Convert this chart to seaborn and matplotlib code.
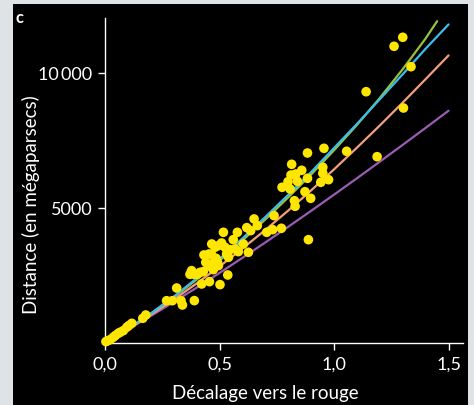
import matplotlib
matplotlib.use("Agg")
import matplotlib.pyplot as plt
from matplotlib.patches import Rectangle
import seaborn as sns
import pandas as pd

# ---- data ----
z_obs = [0.004, 0.012, 0.022, 0.036, 0.045, 0.058, 0.066, 0.080, 0.095, 0.104, 0.117, 0.165, 0.178,
         0.269, 0.294, 0.313, 0.332, 0.338, 0.390,
         0.371, 0.378, 0.389, 0.403, 0.415, 0.429, 0.422, 0.456, 0.440, 0.451,
         0.432, 0.454, 0.466, 0.473, 0.480, 0.485, 0.491, 0.473, 0.495, 0.502,
         0.466, 0.480, 0.495, 0.509, 0.517, 0.524, 0.531, 0.539, 0.546, 0.536,
         0.560, 0.568, 0.578, 0.582, 0.604, 0.619, 0.626, 0.636, 0.651, 0.665,
         0.706, 0.732, 0.738, 0.770,
         0.773, 0.799, 0.808, 0.812, 0.815, 0.833, 0.840, 0.859, 0.873, 0.827,
         0.830, 0.884, 0.884, 0.898, 0.888, 0.942, 0.951, 0.951, 0.956, 0.976,
         1.055, 1.140, 1.188, 1.262, 1.300, 1.303, 1.336]
d_obs = [25, 60, 95, 186, 250, 334, 371, 433, 557, 620, 705, 891, 1013,
         1544, 1544, 2016, 1544, 1385, 1547,
         2524, 2660, 2524, 2524, 2598, 2623, 2165, 2252, 2970, 2846,
         3242, 3279, 3242, 2908, 3031, 3118, 2970, 2697, 2846, 2141,
         3650, 3526, 3588, 3687, 4083, 3526, 3279, 3155, 3440, 2499,
         3811, 3464, 4083, 3366, 3650, 4256, 3341, 4145, 4578, 4331,
         4083, 4182, 4702, 4232,
         5754, 5962, 5690, 6210, 6607, 6247, 5976, 6385, 5590, 5256,
         5048, 6088, 7027, 5345, 3809, 5939, 6496, 6273, 7201, 6036,
         7090, 9302, 6890, 10988, 11322, 8697, 10231]

z_curve = [0.0, 0.1, 0.2, 0.3, 0.4, 0.5, 0.6, 0.7, 0.8, 0.9, 1.0, 1.1, 1.2, 1.3, 1.4, 1.5]
d_purple = [0, 479, 978, 1495, 2028, 2575, 3135, 3706, 4288, 4880, 5481, 6089, 6706, 7330, 7960, 8597]
d_orange = [0, 490, 1020, 1585, 2185, 2815, 3480, 4170, 4890, 5640, 6420, 7225, 8050, 8900, 9770, 10650]
d_cyan = [0, 503, 1071, 1695, 2373, 3093, 3855, 4652, 5473, 6320, 7213, 8105, 9025, 9952, 10900, 11800]
z_green = [0.0, 0.1, 0.2, 0.3, 0.4, 0.5, 0.6, 0.7, 0.8, 0.9, 1.0, 1.1, 1.2, 1.3, 1.4, 1.45]
d_green = [0, 500, 1060, 1670, 2330, 3030, 3780, 4560, 5380, 6230, 7130, 8070, 9070, 10140, 11280, 11920]

x_ticks = [0.0, 0.5, 1.0, 1.5]
x_ticklabels = ["0,0", "0,5", "1,0", "1,5"]
y_ticks = [5000, 10000]
y_ticklabels = ["5000", "10\u2009000"]

# ---- style ----
sns.set_theme(style="ticks")
plt.rcParams["font.family"] = ["Lato", "DejaVu Sans"]

W, H = 474, 406
fig = plt.figure(figsize=(W / 100, H / 100), dpi=100, facecolor="#dfe3e6")
fig.patches.append(Rectangle((13 / W, 0), (468 - 13) / W, (H - 5) / H,
                             transform=fig.transFigure, facecolor="black",
                             edgecolor="none", zorder=-10))

ax_w = 463 - 105
ax_h = 344 - 19.3
ax = fig.add_axes([105 / W, 1 - 344 / H, ax_w / W, ax_h / H])
ax.set_facecolor("none")

obs = pd.DataFrame({"z": z_obs, "d": d_obs})
curves = [
    (z_curve, d_purple, "#9a5cb4"),
    (z_curve, d_orange, "#f2a07a"),
    (z_green, d_green, "#99c23c"),
    (z_curve, d_cyan, "#3dbde9"),
]
for zz, dd, col in curves:
    sns.lineplot(x=zz, y=dd, ax=ax, color=col, lw=1.6, sort=True, estimator=None, zorder=2)

sns.scatterplot(data=obs, x="z", y="d", ax=ax, color="#ffe600", s=48,
                edgecolor="none", linewidth=0, zorder=3, clip_on=False)

ax.set_xlim(0, 1.563)
ax.set_ylim(-26, 12027)

for s in ["top", "right"]:
    ax.spines[s].set_visible(False)
for s in ["left", "bottom"]:
    ax.spines[s].set_color("white")
    ax.spines[s].set_linewidth(1.0)

ax.set_xticks(x_ticks)
ax.set_xticklabels(x_ticklabels)
ax.set_yticks(y_ticks)
ax.set_yticklabels(y_ticklabels)
ax.tick_params(axis="both", colors="white", labelcolor="white", labelsize=13,
               length=5, width=1.0, direction="out", pad=4)

ax.set_xlabel("Décalage vers le rouge", color="white", fontsize=13.5)
ax.set_ylabel("Distance (en mégaparsecs)", color="white", fontsize=13.5)
ax.xaxis.set_label_coords((265 - 105) / ax_w, (344 - 385) / ax_h)
ax.yaxis.set_label_coords((40 - 105) / ax_w, (344 - 205) / ax_h)

fig.text(16 / W, 1 - 23 / H, "c", color="white", fontsize=12, fontweight="bold",
         ha="left", va="baseline")

fig.savefig("out.png", dpi=100, facecolor=fig.get_facecolor())
